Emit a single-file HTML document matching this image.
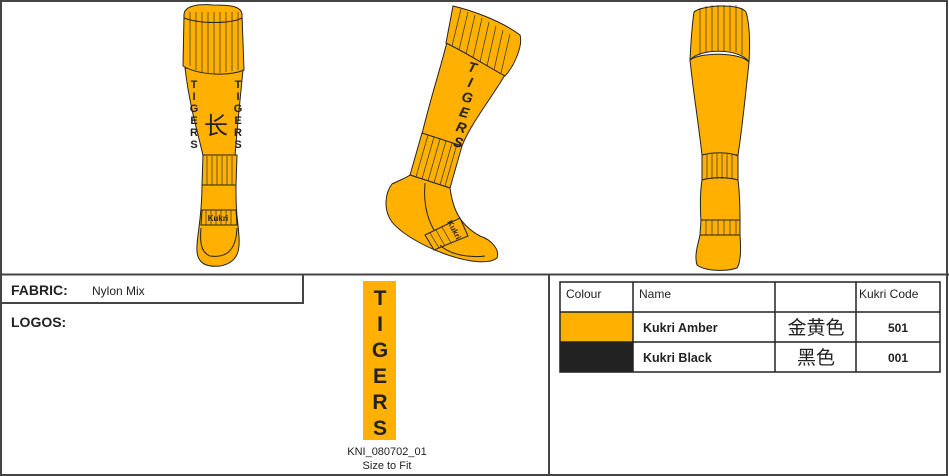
<!DOCTYPE html>
<html><head><meta charset="utf-8"><style>
html,body{margin:0;padding:0;background:#fff}
body{width:949px;height:476px;position:relative;overflow:hidden;font-family:"Liberation Sans",Arial,sans-serif}
.a{position:absolute}
</style></head><body>
<svg class="a" style="left:0;top:0" width="949" height="476" viewBox="0 0 949 476">
<g fill="none" stroke="#444" stroke-width="2">
<rect x="1" y="1" width="946" height="474"/>
<line x1="0" y1="274.5" x2="949" y2="274.5"/>
<line x1="549" y1="274" x2="549" y2="476"/>
<polyline points="0,303 303,303 303,274"/>
</g>
<g stroke="#222" stroke-width="1" fill="#FFB000">
<!-- front sock -->
<path d="M185,68 C190,110 200,140 203,156 L235,156 C237,130 240,100 243,70 Z"/>
<path d="M203,155 L237,155 L236,185 L202,185 Z"/>
<path d="M202,185 L236,185 C236,200 236,210 238,225 C240,245 242,262 220,266 C200,268 196,258 197,245 C198,230 202,215 202,185 Z"/>
<path d="M202,210 L236,210 L237,225 L201,225 Z"/>
<path d="M201,228 C200,240 200,252 210,256 C225,258 236,252 237,228" fill="none"/>
<path d="M184,15 C184,5 200,4 213,5 C230,5 242,6 242,15 L244,70 C230,76 200,76 183,66 Z"/>
<path d="M184,18 C200,24 230,24 242,18" fill="none"/>
<!-- side sock -->
<path d="M447,42 L505,75 C490,100 470,125 462,146 L422,134 C430,100 440,70 447,42 Z"/>
<path d="M453,6 C470,10 500,20 520,35 C523,45 515,65 505,76 C485,65 465,52 446,43 Z"/>
<path d="M422,133 L462,146 L450,188 L410,175 Z"/>
<path d="M410,175 L450,188 C453,210 460,225 480,236 C492,240 500,250 497,258 C490,264 470,263 445,254 C420,245 400,232 392,222 C383,210 385,193 392,184 C400,180 406,178 410,175 Z"/>
<path d="M425,183 C423,205 428,225 440,238" fill="none"/>
<path d="M425,235 L460,218 L468,236 L434,250 Z"/>
<path d="M440,245 C450,255 470,258 485,256" fill="none"/>
<!-- back sock -->
<path d="M690,60 C700,52 740,52 749,62 C745,100 742,130 738,155 L702,155 C698,120 693,90 690,60 Z"/>
<path d="M694,12 C702,5 740,3 746,12 C750,25 750,45 749,62 C740,48 700,48 690,60 C691,40 692,25 694,12 Z"/>
<path d="M702,155 C712,152 730,152 738,156 L738,180 C728,177 712,177 702,180 Z"/>
<path d="M702,180 C712,177 728,177 738,180 C740,195 740,210 740,222 L701,222 C700,205 700,192 702,180 Z"/>
<path d="M701,220 L740,220 L740,235 L700,235 Z"/>
<path d="M700,235 L740,235 C741,248 741,262 737,268 C725,272 705,271 697,265 C694,255 698,245 700,235 Z"/>
</g>
<g stroke="#333" stroke-width="0.7">
<path d="M190,12V66M196,12V70M202,12V72M208,12V73M214,12V73M220,12V73M226,12V72M232,12V71M238,12V70"/>
<path d="M207,156V185M212,156V185M217,156V185M222,156V185M227,156V185M232,156V185"/>
<path d="M206,210V225M211,210V225M216,210V225M221,210V225M226,210V225M231,210V225"/>
<path d="M461,9L452,46M468,12L459,50M475,15L466,54M482,18L473,58M489,22L480,62M496,26L487,66M503,30L494,70M510,34L501,73"/>
<path d="M428,135L416,177M434,137L422,179M440,139L428,181M446,141L434,183M452,143L440,185M457,144L445,186"/>
<path d="M430,233L439,248M436,230L445,246M442,227L451,243"/>
<path d="M700,8V55M706,6V53M712,5V51M718,5V51M724,5V51M730,5V51M736,5V52M742,8V55"/>
<path d="M707,154V179M712,154V179M717,154V179M722,154V179M727,154V179M732,154V179"/>
<path d="M706,220V235M712,220V235M718,220V235M724,220V235M730,220V235M736,220V235"/>
</g>
<g font-family="Liberation Sans,sans-serif" font-weight="bold" font-size="11" fill="#222" text-anchor="middle">
<text x="194" y="88">T</text><text x="194" y="100">I</text><text x="194" y="112">G</text><text x="194" y="124">E</text><text x="194" y="136">R</text><text x="194" y="148">S</text>
<text x="238" y="88">T</text><text x="238" y="100">I</text><text x="238" y="112">G</text><text x="238" y="124">E</text><text x="238" y="136">R</text><text x="238" y="148">S</text>
</g>
<text x="216" y="134" font-family="Noto Sans CJK SC,sans-serif" font-size="24" fill="#222" text-anchor="middle">长</text>
<text x="218" y="221" font-family="Liberation Sans,sans-serif" font-size="8" font-weight="bold" fill="#222" text-anchor="middle">Kukri</text>
<g font-family="Liberation Sans,sans-serif" font-weight="bold" font-style="italic" font-size="14" fill="#222" text-anchor="middle">
<text transform="translate(471,72) rotate(15)">T</text>
<text transform="translate(469,87) rotate(15)">I</text>
<text transform="translate(466,102) rotate(15)">G</text>
<text transform="translate(463,117) rotate(15)">E</text>
<text transform="translate(460,132) rotate(15)">R</text>
<text transform="translate(457,147) rotate(15)">S</text>
</g>
<text transform="translate(447,222) rotate(62)" font-family="Liberation Sans,sans-serif" font-size="8" font-weight="bold" fill="#222">Kukri</text>
<!-- logo -->
<rect x="363" y="281" width="33" height="159" fill="#FFB000"/>
<g font-family="Liberation Sans,sans-serif" font-weight="bold" font-size="21" fill="#222" text-anchor="middle">
<text x="380" y="305">T</text><text x="380" y="331">I</text><text x="380" y="357">G</text><text x="380" y="383">E</text><text x="380" y="409">R</text><text x="380" y="435">S</text>
</g>
<text x="387" y="455" font-size="11" fill="#222" text-anchor="middle">KNI_080702_01</text>
<text x="387" y="469" font-size="11" fill="#222" text-anchor="middle">Size to Fit</text>
<text x="11" y="295" font-size="14" font-weight="bold" fill="#222">FABRIC:</text>
<text x="92" y="295" font-size="12" fill="#222">Nylon Mix</text>
<text x="11" y="327" font-size="14" font-weight="bold" fill="#222">LOGOS:</text>
<!-- table -->
<rect x="560" y="312" width="73" height="30" fill="#FFB000"/>
<rect x="560" y="342" width="73" height="30" fill="#222"/>
<g fill="none" stroke="#222" stroke-width="1.5">
<rect x="560" y="282" width="380" height="90"/>
<line x1="560" y1="312" x2="940" y2="312"/><line x1="560" y1="342" x2="940" y2="342"/>
<line x1="633" y1="282" x2="633" y2="372"/><line x1="775" y1="282" x2="775" y2="372"/><line x1="856" y1="282" x2="856" y2="372"/>
</g>
<g font-size="12" fill="#222">
<text x="566" y="298">Colour</text><text x="639" y="298">Name</text><text x="859" y="298">Kukri Code</text>
<text x="643" y="332" font-weight="bold" font-size="12.5">Kukri Amber</text><text x="643" y="362" font-weight="bold" font-size="12.5">Kukri Black</text>
<text x="898" y="332" text-anchor="middle" font-weight="bold">501</text><text x="898" y="362" text-anchor="middle" font-weight="bold">001</text>
</g>
<text x="816" y="334" font-family="Noto Sans CJK SC,sans-serif" font-size="19" fill="#222" text-anchor="middle">金黄色</text>
<text x="816" y="364" font-family="Noto Sans CJK SC,sans-serif" font-size="19" fill="#222" text-anchor="middle">黑色</text>
</svg>
</body></html>
